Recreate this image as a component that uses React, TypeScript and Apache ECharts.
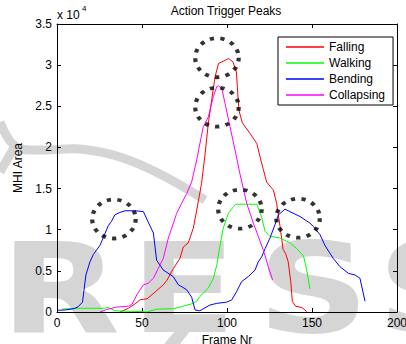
import React, { useEffect, useRef } from 'react';
import * as echarts from 'echarts';

const FONT = '"Liberation Sans", Arial, Helvetica, sans-serif';

const legendNames = ['Falling', 'Walking', 'Bending', 'Collapsing'];
const lineColors = ['#ff0000', '#00ff00', '#0000ff', '#ff00ff'];

// values in units of 10^4 (MHI area), x = frame number
const fallingData = [
  [37, 0], [42, 0.045], [46, 0.1], [49, 0.15], [53, 0.16], [57, 0.23], [62.5, 0.33], [64.5, 0.38],
  [68.5, 0.53], [72.3, 0.65], [74.3, 0.79], [77.2, 0.84], [80.2, 1.02], [82.2, 1.24], [85, 1.56],
  [87, 1.9], [89, 2.29], [91, 2.58], [93, 2.86], [95, 3.02], [99, 3.06], [101, 3.08], [103.5, 3.04],
  [105.5, 2.92], [107, 2.45], [109, 2.3], [113.5, 2.17], [117.5, 2.05], [119.5, 1.88], [121.4, 1.73],
  [123.3, 1.58], [127.3, 1.48], [129.2, 1.32], [131.2, 1.04], [133, 0.76], [134.5, 0.71], [136, 0.61],
  [137.5, 0.37], [138.4, 0.13], [140.4, 0.07], [144, 0.055], [147, 0.005],
];

const walkingData = [
  [3, 0.035], [10, 0.045], [28, 0.045], [30, 0.055], [34, 0.015], [40, 0.01], [50, 0.005], [53, 0],
  [58.6, 0.035], [68.4, 0.04], [73.3, 0.065], [79.2, 0.1], [82.2, 0.13], [84.1, 0.19], [89, 0.29],
  [92, 0.41], [94, 0.57], [95.9, 0.81], [97.8, 1.02], [100.8, 1.2], [105, 1.31], [117.5, 1.31],
  [120.4, 1.15], [122.4, 0.98], [125.3, 0.92], [131, 0.9], [137, 0.84], [141, 0.77], [145, 0.68],
  [147, 0.5], [148.8, 0.28],
];

const bendingData = [
  [0, 0.02], [5, 0.025], [10, 0.04], [12.5, 0.065], [15, 0.12], [17, 0.45], [19.4, 0.61], [21.4, 0.7],
  [25.3, 0.81], [30.2, 1.05], [32, 1.1], [34, 1.18], [37, 1.21], [40, 1.23], [46, 1.23], [50.8, 1.22],
  [53.5, 1.1], [56.7, 0.96], [58.6, 0.63], [62.5, 0.51], [68.4, 0.43], [71.4, 0.33], [74, 0.3],
  [76.3, 0.27], [79.2, 0.18], [81.2, 0.025], [84, 0.015], [90, 0.085], [94, 0.105], [99.8, 0.12],
  [102.7, 0.145], [105.7, 0.25], [108.6, 0.37], [112.5, 0.43], [116.5, 0.51], [118.4, 0.61],
  [120.4, 0.67], [122.4, 0.77], [125.3, 0.9], [128.2, 1.06], [130.2, 1.18], [134.1, 1.25], [137, 1.22],
  [143, 1.16], [148.8, 1.08], [150.8, 1.04], [154.7, 0.94], [157.6, 0.81], [162.5, 0.65], [166.5, 0.55],
  [171.4, 0.47], [175.3, 0.45], [178.2, 0.41], [181.2, 0.13],
];

const collapsingData = [
  [25.3, 0], [29.2, 0.03], [35, 0.06], [42, 0.07], [44, 0.09], [47, 0.21], [50.8, 0.33], [53.7, 0.35],
  [56.7, 0.41], [59.6, 0.53], [62.5, 0.65], [65.5, 0.9], [67.5, 1.02], [70.4, 1.2], [73.3, 1.32],
  [76.3, 1.44], [79.2, 1.58], [82.2, 1.85], [86, 2.25], [89, 2.37], [92, 2.62], [94, 2.74], [95, 2.75],
  [97, 2.71], [98.8, 2.54], [101.8, 2.25], [104.7, 1.97], [107.6, 1.68], [111.6, 1.32], [115.5, 1.08],
  [118.4, 0.92], [121.4, 0.75], [124.3, 0.55], [126.8, 0.39],
];

// dotted circles marking the trigger peaks
const peakMarks = [
  [94.1, 3.09], [94.1, 2.49], [33.5, 1.13], [107.6, 1.25], [141.8, 1.14],
];

const xTicks = { min: 0, max: 200, interval: 50 };
const yTicks = { min: 0, max: 3.5, interval: 0.5 };

const WM = '#d5d5d5';
const WM_FONT = 'bold 125px "DejaVu Sans"';

export default function App() {
  const ref = useRef<HTMLDivElement>(null);
  useEffect(() => {
    const chart = echarts.init(ref.current!, null, { renderer: 'svg' });
    const axisCommon = {
      type: 'value',
      axisLine: { show: true, onZero: false, lineStyle: { color: '#000', width: 1 } },
      axisTick: { show: true, inside: true, length: 4, lineStyle: { color: '#000' } },
      splitLine: { show: false },
    };
    const dataSeries = [fallingData, walkingData, bendingData, collapsingData];
    const letter = (text: string, x: number) => ({
      type: 'text', x, y: 226, scaleX: 1.25, z: -10, silent: true,
      style: { text, fill: WM, font: WM_FONT, verticalAlign: 'top' },
    });
    chart.setOption({
      animation: false,
      backgroundColor: '#fff',
      textStyle: { fontFamily: FONT },
      grid: { left: 57, right: 9, top: 24, bottom: 32, containLabel: false, outerBoundsMode: 'none' },
      xAxis: [
        {
          ...axisCommon, ...xTicks, position: 'bottom',
          name: 'Frame Nr', nameLocation: 'middle', nameGap: 18,
          nameTextStyle: { color: '#000', fontSize: 12, fontFamily: FONT },
          axisLabel: { color: '#000', fontSize: 12, margin: 5, fontFamily: FONT },
        },
        { ...axisCommon, ...xTicks, position: 'top', axisLabel: { show: false } },
      ],
      yAxis: [
        {
          ...axisCommon, ...yTicks, position: 'left',
          name: 'MHI Area', nameLocation: 'middle', nameGap: 31,
          nameTextStyle: { color: '#000', fontSize: 12, fontFamily: FONT },
          axisLabel: { color: '#000', fontSize: 12, margin: 5, fontFamily: FONT },
        },
        { ...axisCommon, ...yTicks, position: 'right', axisLabel: { show: false } },
      ],
      legend: {
        data: legendNames,
        orient: 'vertical',
        left: 278,
        top: 37,
        padding: [4, 8, 4, 8],
        itemGap: 4,
        itemWidth: 38,
        itemHeight: 1.5,
        icon: 'rect',
        borderColor: '#000',
        borderWidth: 1,
        borderRadius: 0,
        backgroundColor: '#fff',
        selectedMode: false,
        textStyle: { color: '#000', fontSize: 12, fontFamily: FONT },
      },
      graphic: {
        elements: [
          letter('R', 0),
          letter('E', 130),
          letter('S', 257),
          letter('S', 377),
          { type: 'polyline', z: -10, silent: true,
            shape: { points: [[0, 122], [15, 146], [40, 150], [80, 149], [120, 157], [160, 174], [205, 200]], smooth: 0.4 },
            style: { stroke: WM, lineWidth: 9, fill: null } },
          { type: 'line', z: -10, silent: true,
            shape: { x1: 15, y1: 146, x2: 0, y2: 172 },
            style: { stroke: WM, lineWidth: 9 } },
          { type: 'polygon', z: -10, silent: true,
            shape: { points: [[176, 330], [191, 330], [180, 344], [164, 344]] },
            style: { fill: WM } },
          { type: 'text', x: 226, y: 11, silent: true,
            style: { text: 'Action Trigger Peaks', fill: '#000', font: `12px ${FONT}`, align: 'center', verticalAlign: 'middle' } },
          { type: 'text', x: 57, y: 15, silent: true,
            style: { text: 'x 10', fill: '#000', font: `12px ${FONT}`, align: 'left', verticalAlign: 'middle' } },
          { type: 'text', x: 82, y: 8, silent: true,
            style: { text: '4', fill: '#000', font: `8px ${FONT}`, align: 'left', verticalAlign: 'middle' } },
        ],
      },
      series: [
        ...legendNames.map((name, i) => ({
          name,
          type: 'line',
          data: dataSeries[i],
          xAxisIndex: 0,
          yAxisIndex: 0,
          showSymbol: false,
          symbol: 'none',
          color: lineColors[i],
          lineStyle: { color: lineColors[i], width: 1 },
          silent: true,
          z: 2,
        })),
        {
          name: 'peaks',
          type: 'scatter',
          data: peakMarks,
          xAxisIndex: 0,
          yAxisIndex: 0,
          symbol: 'circle',
          symbolSize: [43.5, 39],
          itemStyle: { color: 'rgba(0,0,0,0)', borderColor: '#000', borderWidth: 4, borderType: [4, 6] },
          silent: true,
          z: 5,
        },
      ],
    });
    return () => chart.dispose();
  }, []);
  return <div ref={ref} style={{ position: 'absolute', left: 0, top: 0, width: 406, height: 344 }} />;
}
